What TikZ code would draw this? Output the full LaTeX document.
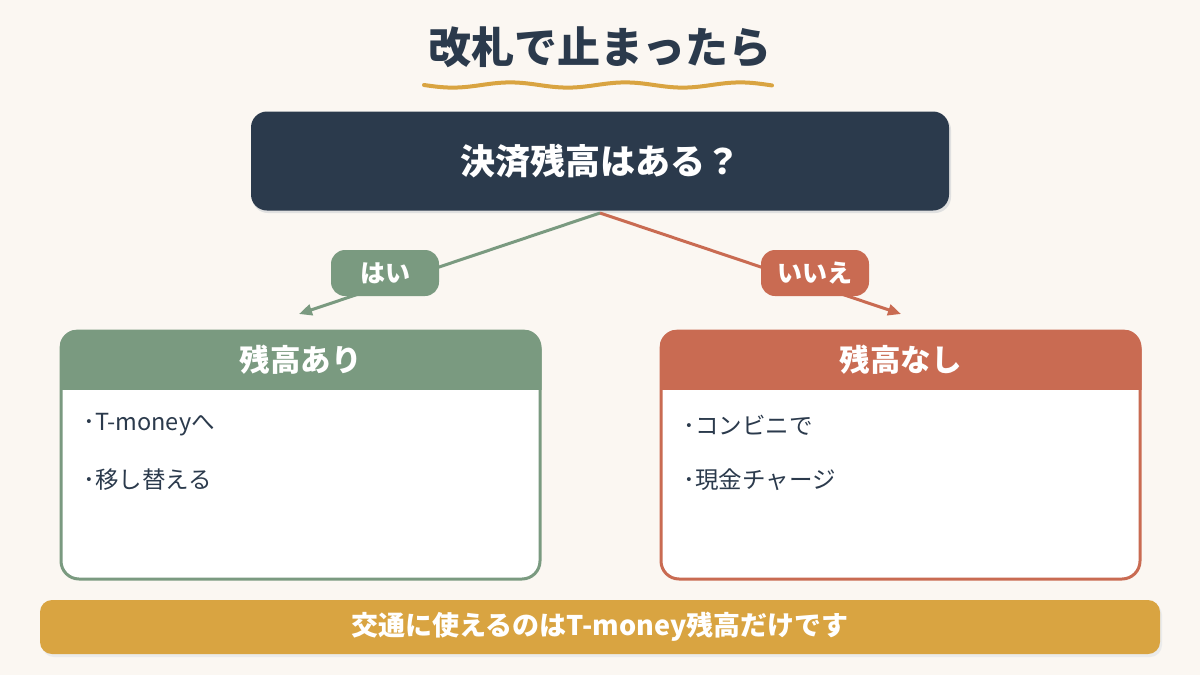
\documentclass[tikz,border=0pt]{standalone}
\usepackage{fontspec}
\setmainfont{Noto Sans CJK JP}
\usepackage{tikz}
\usetikzlibrary{arrows.meta}

\definecolor{bgcream}{HTML}{FBF7F2}
\definecolor{navy}{HTML}{2B3A4C}
\definecolor{sage}{HTML}{7A9A80}
\definecolor{terra}{HTML}{C96B52}
\definecolor{gold}{HTML}{D9A441}

\begin{document}
\begin{tikzpicture}[x=1pt,y=-1pt,
		pill/.style={rounded corners=14pt, minimum width=108pt, minimum height=46pt, inner sep=0pt,
			text=white, font=\fontsize{25}{28}\selectfont\bfseries},
		branch/.style={line width=3pt, -{Triangle[length=13pt,width=11pt]}},
		card/.style={draw, line width=3pt, fill=white, rounded corners=18pt,
			minimum width=479pt, minimum height=248pt, inner sep=0pt},
		cardhead/.style={text=white, font=\fontsize{30.5}{34}\selectfont\bfseries},
		item/.style={anchor=west, text=navy, font=\fontsize{23.5}{26}\selectfont}]
		% Background and page size
		\fill[bgcream] (0,0) rectangle (1200,675);
		\useasboundingbox (0,0) rectangle (1200,675);
		
		% Title with wavy underline
		\node[text=navy, font=\fontsize{43}{48}\selectfont\bfseries] (title) at (600,47) {改札で止まったら};
		\draw[gold, line width=4pt, line cap=round, domain=0:348, samples=90]
			plot (424+\x, {85 + 2.6*sin(\x*3.13)});
		
		% Question box
		\fill[black!12, rounded corners=16pt] (252,114) rectangle (951,213);
		\node[fill=navy, rounded corners=16pt, minimum width=698pt, minimum height=99pt, inner sep=0pt,
			text=white, font=\fontsize{35}{40}\selectfont\bfseries] (q) at (600,161) {決済残高はある？};
		
		% Branches
		\coordinate (top) at (600,213);
		\coordinate (yesEnd) at (299,314);
		\coordinate (noEnd) at (901,314);
		\draw[branch, sage] (top) -- (yesEnd);
		\draw[branch, terra] (top) -- (noEnd);
		\node[pill, fill=sage] (yes) at (385,273) {はい};
		\node[pill, fill=terra] (no) at (815,273) {いいえ};
		
		% Left card
		\node[card, draw=sage] (left) at (300.5,455) {};
		\begin{scope}
			\clip[rounded corners=18pt] (left.north west) rectangle (left.south east);
			\fill[sage] (left.north west) rectangle ([yshift=-60pt]left.north east);
		\end{scope}
		\node[cardhead] (lefthead) at (300.5,360) {残高あり};
		\node[item] (l1) at (80,425) {･T-moneyへ};
		\node[item] (l2) at (80,480) {･移し替える};
		
		% Right card
		\node[card, draw=terra] (right) at (900.5,455) {};
		\begin{scope}
			\clip[rounded corners=18pt] (right.north west) rectangle (right.south east);
			\fill[terra] (right.north west) rectangle ([yshift=-60pt]right.north east);
		\end{scope}
		\node[cardhead] (righthead) at (900.5,360) {残高なし};
		\node[item] (r1) at (680,425) {･コンビニで};
		\node[item] (r2) at (680,480) {･現金チャージ};
		
		% Bottom note
		\fill[black!8, rounded corners=12pt] (42,603) rectangle (1162,657);
		\node[fill=gold, rounded corners=12pt, minimum width=1120pt, minimum height=54pt, inner sep=0pt,
			text=white, font=\fontsize{27}{30}\selectfont\bfseries] (note) at (600,627) {交通に使えるのはT-money残高だけです};
	\end{tikzpicture}
\end{document}
